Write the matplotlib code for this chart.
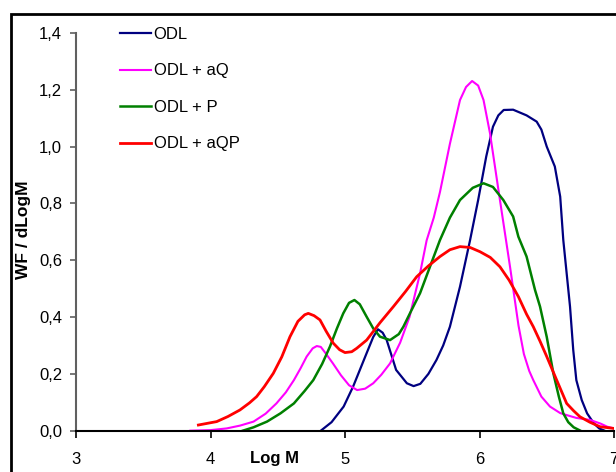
import matplotlib
matplotlib.use("Agg")
import matplotlib.pyplot as plt
from matplotlib.patches import Rectangle
import numpy as np

# ---- data ----
odl_x = [4.82, 4.90, 4.99, 5.06, 5.16, 5.21, 5.245, 5.28, 5.31, 5.38, 5.46, 5.51, 5.56, 5.62,
         5.68, 5.73, 5.78, 5.855, 5.93, 5.99, 6.05, 6.10, 6.14, 6.18, 6.25, 6.30, 6.35, 6.425,
         6.46, 6.50, 6.56, 6.60, 6.623, 6.648, 6.673, 6.697, 6.72, 6.76, 6.80, 6.85, 6.89, 6.93]
odl_y = [0.0, 0.03, 0.085, 0.155, 0.272, 0.33, 0.357, 0.345, 0.319, 0.214, 0.167, 0.157, 0.165, 0.2,
         0.249, 0.3, 0.366, 0.507, 0.671, 0.812, 0.965, 1.07, 1.11, 1.129, 1.13, 1.12, 1.11, 1.088,
         1.06, 1.0, 0.93, 0.824, 0.671, 0.554, 0.437, 0.284, 0.178, 0.108, 0.061, 0.026, 0.008, 0.0]

aq_x = [3.85, 4.0, 4.12, 4.22, 4.32, 4.41, 4.49, 4.56, 4.62, 4.67, 4.715, 4.76, 4.79, 4.82, 4.86,
        4.91, 4.97, 5.03, 5.09, 5.15, 5.21, 5.27, 5.335, 5.41, 5.48, 5.558, 5.607, 5.66, 5.706,
        5.78, 5.855, 5.90, 5.945, 5.99, 6.03, 6.078, 6.152, 6.227, 6.29, 6.33, 6.37, 6.40, 6.46,
        6.524, 6.60, 6.648, 6.72, 6.822, 6.90, 6.95, 7.0]
aq_y = [0.0, 0.002, 0.008, 0.018, 0.032, 0.06, 0.096, 0.135, 0.178, 0.22, 0.261, 0.29, 0.298, 0.295,
        0.27, 0.237, 0.195, 0.16, 0.143, 0.148, 0.167, 0.197, 0.237, 0.31, 0.401, 0.554, 0.67, 0.75,
        0.84, 1.01, 1.164, 1.21, 1.231, 1.215, 1.164, 1.047, 0.812, 0.577, 0.37, 0.27, 0.21, 0.178,
        0.12, 0.085, 0.062, 0.055, 0.045, 0.038, 0.025, 0.014, 0.008]

p_x = [4.24, 4.32, 4.42, 4.52, 4.62, 4.70, 4.764, 4.83, 4.888, 4.94, 4.987, 5.03, 5.07, 5.11, 5.161,
       5.21, 5.26, 5.335, 5.40, 5.434, 5.49, 5.558, 5.63, 5.706, 5.78, 5.855, 5.95, 6.03, 6.10,
       6.177, 6.25, 6.289, 6.35, 6.413, 6.45, 6.50, 6.549, 6.59, 6.623, 6.66, 6.70, 6.75]
p_y = [0.0, 0.012, 0.032, 0.061, 0.096, 0.14, 0.178, 0.235, 0.296, 0.36, 0.413, 0.45, 0.46, 0.445,
       0.401, 0.36, 0.331, 0.319, 0.34, 0.366, 0.42, 0.484, 0.575, 0.671, 0.75, 0.812, 0.855, 0.871,
       0.858, 0.812, 0.754, 0.683, 0.613, 0.495, 0.437, 0.33, 0.202, 0.12, 0.061, 0.03, 0.012, 0.0]

aqp_x = [3.91, 4.0, 4.046, 4.13, 4.219, 4.29, 4.343, 4.40, 4.467, 4.53, 4.591, 4.65, 4.70, 4.727,
         4.77, 4.814, 4.86, 4.913, 4.96, 5.0, 5.05, 5.087, 5.161, 5.26, 5.36, 5.45, 5.533, 5.62,
         5.706, 5.78, 5.855, 5.93, 6.004, 6.08, 6.152, 6.22, 6.289, 6.35, 6.40, 6.45, 6.50, 6.574,
         6.648, 6.70, 6.747, 6.82, 6.896, 7.0]
aqp_y = [0.02, 0.028, 0.032, 0.05, 0.073, 0.098, 0.12, 0.155, 0.202, 0.26, 0.331, 0.385, 0.408, 0.413,
         0.405, 0.39, 0.35, 0.308, 0.285, 0.275, 0.278, 0.29, 0.319, 0.38, 0.437, 0.49, 0.542, 0.58,
         0.613, 0.637, 0.648, 0.645, 0.63, 0.61, 0.577, 0.53, 0.472, 0.41, 0.366, 0.315, 0.261, 0.178,
         0.096, 0.07, 0.049, 0.03, 0.014, 0.008]

labels = ["ODL", "ODL + aQ", "ODL + P", "ODL + aQP"]
colors = ["#000080", "#FF00FF", "#008000", "#FF0000"]

x_ticks = [3, 4, 5, 6, 7]
y_ticks = [0.0, 0.2, 0.4, 0.6, 0.8, 1.0, 1.2, 1.4]
y_tick_labels = ["0,0", "0,2", "0,4", "0,6", "0,8", "1,0", "1,2", "1,4"]

# ---- figure ----
plt.rcParams['font.family'] = ['Liberation Sans', 'DejaVu Sans']
fig = plt.figure(figsize=(6.16, 4.72), dpi=100)
W, H = 616, 472
ax = fig.add_axes([76 / W, 1 - 430.7 / H, (614 - 76) / W, (430.7 - 33) / H])

series = [(odl_x, odl_y), (aq_x, aq_y), (p_x, p_y), (aqp_x, aqp_y)]
widths = [1.6, 1.5, 1.8, 2.0]
for (xs, ys), lab, c, lw in zip(series, labels, colors, widths):
    ax.plot(xs, ys, color=c, lw=lw, label=lab, solid_joinstyle='round')

ax.set_xlim(3, 7)
ax.set_ylim(0, 1.4)
ax.set_xticks(x_ticks)
ax.set_xticklabels([str(t) for t in x_ticks])
ax.set_yticks(y_ticks)
ax.set_yticklabels(y_tick_labels)

for s in ["top", "right"]:
    ax.spines[s].set_visible(False)
ax.spines["left"].set_color("#606060")
ax.spines["left"].set_linewidth(1.5)
ax.spines["bottom"].set_color("black")
ax.spines["bottom"].set_linewidth(1.5)
ax.tick_params(axis='y', direction='out', length=4, width=1.2, color="#606060",
               labelsize=12, pad=6)
ax.tick_params(axis='x', direction='out', length=5, width=1.2, color="black",
               labelsize=12, pad=10)

leg = ax.legend(loc='upper left', bbox_to_anchor=((120 - 76) / (614 - 76) - 0.012, 1.032),
                frameon=False, fontsize=12, handlelength=1.85, handletextpad=0.15,
                labelspacing=1.29, borderaxespad=0)

fig.text(275 / W, 1 - 458 / H, "Log M", ha='center', va='center', fontsize=12,
         fontweight='bold')
fig.text(24 / W, 1 - 230 / H, "WF / dLogM", ha='center', va='center', rotation=90,
         fontsize=12.5, fontweight='bold')

# outer frame (cropped chart-area border)
fig.add_artist(Rectangle((11 / W, -0.1), 1.2, 0.1 + (1 - 14 / H), transform=fig.transFigure,
                         fill=False, edgecolor='black', lw=2.0, clip_on=False))

fig.savefig("out.png", dpi=100)
